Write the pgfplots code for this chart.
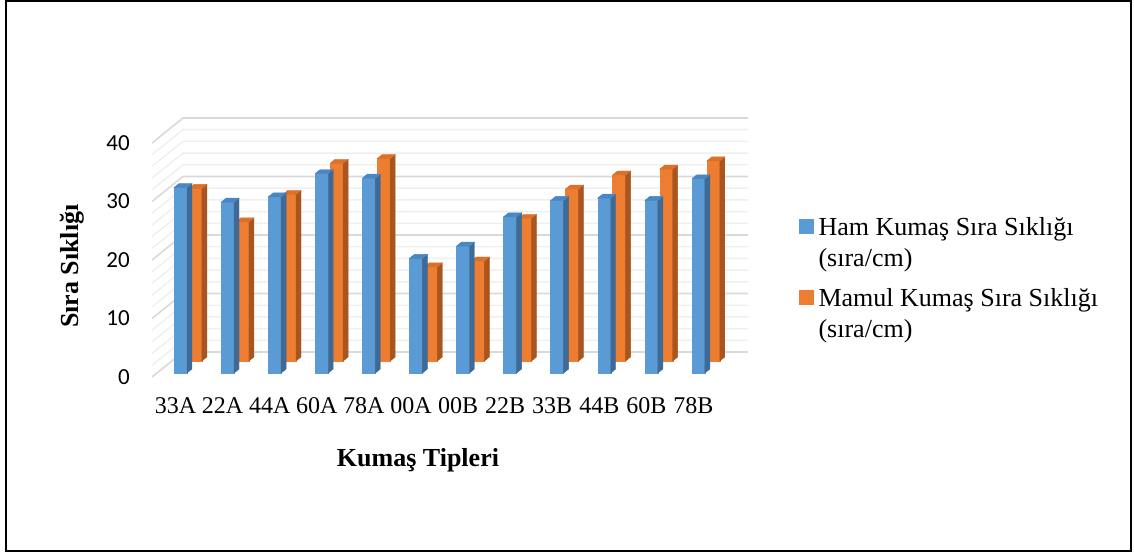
\documentclass[border=0pt]{standalone}
\usepackage{pgfplots}
\pgfplotsset{compat=1.18}
\usepackage{pgfplotstable}
\usepackage{fontspec}
\setmainfont{Liberation Serif}
\newfontfamily\calibri{Carlito}

\definecolor{hamfront}{HTML}{5B9BD5}
\definecolor{hamtop}{HTML}{4A86C2}
\definecolor{hamside}{HTML}{3E6A95}
\definecolor{mamfront}{HTML}{ED7D31}
\definecolor{mamtop}{HTML}{DA712B}
\definecolor{mamside}{HTML}{A9561E}
\definecolor{gridmajor}{HTML}{D9D9D9}
\definecolor{gridminor}{HTML}{EFEFEF}

% fabric type, raw and finished course density (courses/cm)
\pgfplotstableread{
idx name ham mamul
0  33A 31.7 29.5
1  22A 29.2 23.8
2  44A 30.1 28.5
3  60A 34.1 33.8
4  78A 33.3 34.6
5  00A 19.6 16.1
6  00B 21.7 17.1
7  22B 26.7 24.4
8  33B 29.5 29.4
9  44B 29.9 31.8
10 60B 29.5 32.8
11 78B 33.2 34.2
}\density

% geometry of the oblique view (pt)
\def\unitlen{5.85}  % one unit of the value axis
\def\depthx{31}     % full depth of the floor, horizontal part
\def\depthy{25}     % full depth of the floor, vertical part
\def\halfw{6.5}     % half width of a column
\def\thickx{4.96}   % depth of a column, horizontal part
\def\thicky{4}      % depth of a column, vertical part

\pgfdeclareplotmark{blank}{}

% a column drawn as a box with front, side and top faces;
% #1 front, #2 top, #3 side colour, #4 depth of the front face
\pgfplotsset{
  column3d/.style n args={4}{
    only marks, mark=blank, scatter,
    visualization depends on={rawy \as \colval},
    scatter/@pre marker code/.code={%
      \pgfkeys{/pgf/fpu=false}%
      \pgfmathsetmacro\colh{\colval*\unitlen}%
      \pgfmathsetmacro\fx{#4*\depthx}%
      \pgfmathsetmacro\fy{#4*\depthy}%
      \fill[#1] (\fx pt-\halfw pt,\fy pt-\colh pt) rectangle (\fx pt+\halfw pt,\fy pt);
      \fill[#3] (\fx pt+\halfw pt,\fy pt-\colh pt) -- ++(0pt,\colh pt) -- ++(\thickx pt,\thicky pt) -- ++(0pt,-\colh pt) -- cycle;
      \fill[#2] (\fx pt-\halfw pt,\fy pt) -- ++(2*\halfw pt,0pt) -- ++(\thickx pt,\thicky pt) -- ++(-2*\halfw pt,0pt) -- cycle;
    },
    scatter/@post marker code/.code={},
  }
}

\begin{document}
\begin{tikzpicture}
\path[use as bounding box] (0pt,0pt) rectangle (1134pt,554pt);
\draw[line width=1.6pt] (5.8pt,3.3pt) rectangle (1131pt,553pt);

\begin{axis}[
  at={(152pt,177pt)}, anchor=south west,
  scale only axis, width=565pt, height=234pt,
  xmin=-0.5, xmax=11.5, ymin=0, ymax=40,
  clip=false,
  axis line style={draw=none},
  tick style={draw=none},
  ytick={0,10,20,30,40},
  xtick={0,...,11},
  xticklabels={33A,22A,44A,60A,78A,00A,00B,22B,33B,44B,60B,78B},
  /pgf/number format/assume math mode=true,
  yticklabel style={font=\calibri\fontsize{23}{23}\selectfont, anchor=east, inner sep=0pt, xshift=-22pt},
  xticklabel style={font=\fontsize{24}{24}\selectfont, anchor=base, inner sep=0pt, yshift=-36pt},
  xlabel={Kumaş Tipleri}, ylabel={Sıra Sıklığı},
  every axis x label/.style={at={(axis description cs:0.4708,-0.3846)}, anchor=base, font=\bfseries\fontsize{26}{26}\selectfont},
  every axis y label/.style={at={(axis description cs:-0.1420,0.474)}, anchor=center, rotate=90, font=\bfseries\fontsize{26}{26}\selectfont},
  legend style={at={(axis description cs:1.1451,0.681)}, anchor=north west,
    draw=none, fill=none, inner sep=0pt, row sep=51.5pt, column sep=5pt,
    font=\fontsize{26}{31}\selectfont, nodes={inner sep=0pt}},
  legend cell align=left,
]
% side wall and back wall grid
\pgfplotsinvokeforeach{2,4,6,8,12,14,16,18,22,24,26,28,32,34,36,38}{
  \draw[gridminor, line width=1.4pt] (axis cs:-0.5,#1) -- ([shift={(31pt,25pt)}]axis cs:-0.5,#1) -- ([shift={(31pt,25pt)}]axis cs:11.5,#1);
}
\pgfplotsinvokeforeach{0,10,20,30,40}{
  \draw[gridmajor, line width=1.6pt] (axis cs:-0.5,#1) -- ([shift={(31pt,25pt)}]axis cs:-0.5,#1) -- ([shift={(31pt,25pt)}]axis cs:11.5,#1);
}

\addlegendimage{legend image code/.code={\fill[hamfront] (0pt,-6pt) rectangle (14pt,8pt);}}
\addlegendentry{\vtop{\baselineskip=31pt\hbox{Ham Kumaş Sıra Sıklığı}\hbox{(sıra/cm)}}}
\addlegendimage{legend image code/.code={\fill[mamfront] (0pt,-6pt) rectangle (14pt,8pt);}}
\addlegendentry{\vtop{\baselineskip=31pt\hbox{Mamul Kumaş Sıra Sıklığı}\hbox{(sıra/cm)}}}

% back row first, front row over it
\addplot[column3d={mamfront}{mamtop}{mamside}{0.64}, forget plot] table[x=idx, y=mamul] {\density};
\addplot[column3d={hamfront}{hamtop}{hamside}{0.16}, forget plot] table[x=idx, y=ham] {\density};
\end{axis}
\end{tikzpicture}
\end{document}
